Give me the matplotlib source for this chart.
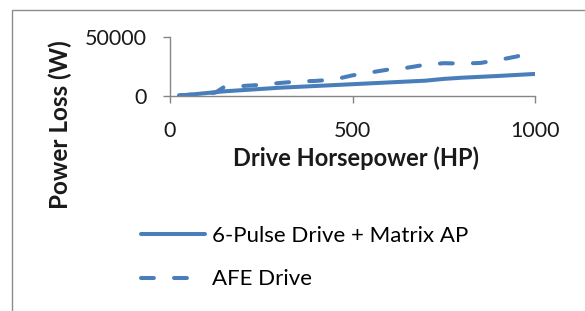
import matplotlib
matplotlib.use("Agg")
import matplotlib.pyplot as plt
from matplotlib.patches import Rectangle

# data
hp_matrix = [25, 50, 100, 150, 200, 300, 400, 500, 600, 700, 750, 800, 900, 1000]
loss_matrix = [500, 1000, 2500, 4000, 5000, 7000, 8500, 10000, 11500, 13000, 14500, 15500, 17000, 18700]

hp_afe = [25, 50, 100, 125, 150, 200, 250, 300, 350, 400, 450, 500, 550, 600,
          650, 700, 750, 800, 850, 900, 950, 1000]
loss_afe = [500, 1000, 2000, 3000, 8000, 8500, 9500, 11000, 12300, 12800, 14000,
            17500, 20000, 22500, 24000, 26500, 27800, 27500, 28000, 30500, 33500, 37500]

x_ticks = [0, 500, 1000]
y_ticks = [0, 50000]

blue = "#4A7EBB"
grey = "#868686"

plt.rcParams["font.family"] = ["Lato", "DejaVu Sans"]

fig = plt.figure(figsize=(5.85, 3.11), dpi=100)
fig.patches.append(Rectangle((12 / 585, -0.1), 1.2, 1 - 10 / 311 + 0.1,
                             transform=fig.transFigure, fill=False,
                             edgecolor="#8c8c8c", linewidth=1.0))

ax = fig.add_axes([170 / 585, 1 - 96 / 311, 365 / 585, 59 / 311])
ax.plot(hp_matrix, loss_matrix, color=blue, linewidth=2.9,
        solid_capstyle="round", label="6-Pulse Drive + Matrix AP")
ax.plot(hp_afe, loss_afe, color=blue, linewidth=2.9, dashes=(3.2, 5),
        dash_capstyle="round", label="AFE Drive")

ax.set_xlim(0, 1000)
ax.set_ylim(0, 50000)
ax.set_xticks(x_ticks)
ax.set_yticks(y_ticks)
ax.tick_params(labelsize=15.5, color=grey, length=5, width=1, labelcolor="#1a1a1a")
ax.tick_params(axis="x", pad=13)
ax.tick_params(axis="y", pad=12)
for s in ["top", "right"]:
    ax.spines[s].set_visible(False)
for s in ["left", "bottom"]:
    ax.spines[s].set_color(grey)
    ax.spines[s].set_linewidth(1)

fig.text(356 / 585, 1 - 158 / 311, "Drive Horsepower (HP)", ha="center", va="center",
         fontsize=17, fontweight="bold", color="#1a1a1a")
fig.text(60 / 585, 1 - 125 / 311, "Power Loss (W)", ha="center", va="center",
         rotation=90, fontsize=17.5, fontweight="bold", color="#1a1a1a")

fig.legend(loc="upper left", bbox_to_anchor=(121 / 585, 1 - 206 / 311),
           frameon=False, fontsize=16, handlelength=2.9, handletextpad=0.3,
           labelspacing=1.05)

fig.savefig("out.png", dpi=100)
